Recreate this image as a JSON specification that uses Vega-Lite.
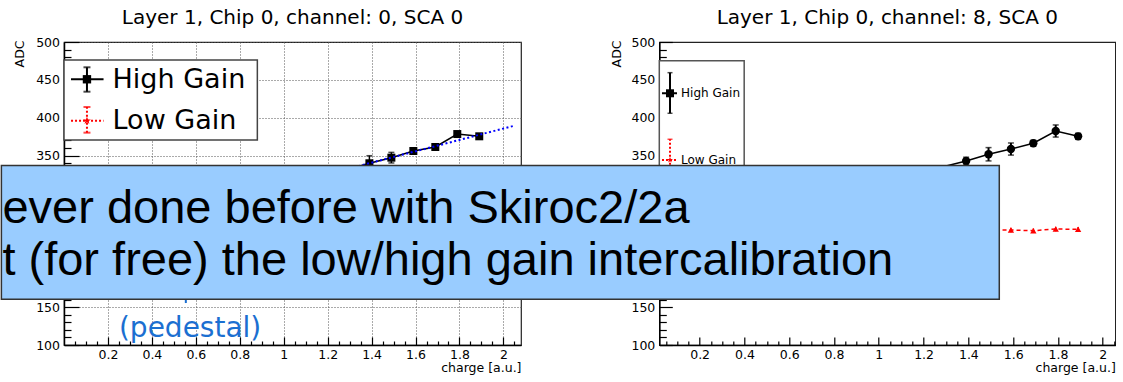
{
  "$schema": "https://vega.github.io/schema/vega-lite/v6.json",
  "autosize": {"type": "pad"},
  "padding": {"left": 0, "top": 7, "right": 0, "bottom": 0},
  "background": "#ffffff",
  "bounds": "flush",
  "spacing": 138.3,
  "datasets": {
    "hgL": [
      {"x": 1.19, "y": 322.7, "lo": 318, "hi": 327},
      {"x": 1.39, "y": 339.9, "lo": 329.9, "hi": 349.9},
      {"x": 1.49, "y": 347.3, "lo": 340.3, "hi": 354.3},
      {"x": 1.59, "y": 356.1, "lo": 353.1, "hi": 359.1},
      {"x": 1.69, "y": 361.4, "lo": 358.4, "hi": 364.4},
      {"x": 1.79, "y": 378.5, "lo": 375.5, "hi": 381.5},
      {"x": 1.89, "y": 375.5, "lo": 372.5, "hi": 378.5}
    ],
    "fitL": [{"x": 1.30, "y": 333.2}, {"x": 2.05, "y": 389.5}],
    "boxL": [{"x1": 0, "x2": 0.88, "y1": 476.2, "y2": 370.6}],
    "legL": [
      {"s": "High Gain", "x": 0.1045, "y": 450.8, "lo": 434.4, "hi": 466.6, "xa": 0.032, "xb": 0.18, "tx": 0.221, "ty": 438.9},
      {"s": "Low Gain", "x": 0.1045, "y": 396.1, "lo": 380.3, "hi": 414.2, "xa": 0.032, "xb": 0.18, "tx": 0.221, "ty": 385.1}
    ],
    "pedL": [{"x": 0.25, "y": 110.6, "t": "(pedestal)"}],
    "arrowL": [{"x": 0.5545, "y1": 175, "y2": 155.4}],
    "hgR": [
      {"x": 1.09, "y": 320.9, "lo": 316, "hi": 326},
      {"x": 1.39, "y": 342.9, "lo": 337.9, "hi": 347.9},
      {"x": 1.49, "y": 351.8, "lo": 343, "hi": 360.6},
      {"x": 1.59, "y": 358.7, "lo": 350.7, "hi": 366.7},
      {"x": 1.69, "y": 366.3, "lo": 362.3, "hi": 370.3},
      {"x": 1.79, "y": 382.5, "lo": 374.5, "hi": 390.5},
      {"x": 1.89, "y": 375.5, "lo": 371.5, "hi": 379.5}
    ],
    "lgR": [
      {"x": 1.49, "y": 252, "lo": 249, "hi": 255},
      {"x": 1.59, "y": 251.8, "lo": 248.8, "hi": 254.8},
      {"x": 1.69, "y": 250.9, "lo": 247.9, "hi": 253.9},
      {"x": 1.79, "y": 253.1, "lo": 250.1, "hi": 256.1},
      {"x": 1.89, "y": 252.7, "lo": 249.7, "hi": 255.7}
    ],
    "boxR": [{"x1": 0.02, "x2": 0.399, "y1": 475.3, "y2": 200}],
    "legR": [
      {"s": "High Gain", "x": 0.0678, "y": 432.3, "lo": 405.9, "hi": 459.5, "xa": 0.032, "xb": 0.099, "tx": 0.117, "ty": 427.8},
      {"s": "Low Gain", "x": 0.0678, "y": 344.2, "lo": 316.9, "hi": 371.6, "xa": 0.032, "xb": 0.099, "tx": 0.117, "ty": 338.5}
    ],
    "banner": [{"x1": -2.9175, "x2": 1.538, "y1": 337, "y2": 160.3}],
    "bannerText": [
      {"x": -2.913, "y": 260.7, "t": "ever done before with Skiroc2/2a"},
      {"x": -2.913, "y": 192.4, "t": "t (for free) the low/high gain intercalibration"}
    ]
  },
  "hconcat": [
    {
      "width": 457,
      "height": 303,
      "title": {"text": "Layer 1, Chip 0, channel: 0, SCA 0", "font": "DejaVu Sans", "fontSize": 20, "fontWeight": "normal", "color": "#000000", "anchor": "middle", "frame": "group", "baseline": "alphabetic", "offset": -8},
      "resolve": {"axis": {"x": "independent", "y": "independent"}},
      "layer": [
        {
          "data": {"name": "hgL"},
          "mark": {"type": "rule", "color": "#000000", "strokeWidth": 1.5},
          "encoding": {
            "x": {"field": "x", "type": "quantitative", "scale": {"domain": [0, 2.08], "nice": false, "zero": false},
              "axis": {"orient": "bottom", "values": [0.2, 0.4, 0.6, 0.8, 1, 1.2, 1.4, 1.6, 1.8, 2], "format": "~g", "ticks": false, "labelPadding": 3, "labelFlush": false, "labelOverlap": false, "labelFontSize": 12.5, "labelColor": "#000000", "grid": true, "gridDash": [1, 2], "gridColor": "#555555", "gridWidth": 1, "domain": true, "domainColor": "#000000", "domainWidth": 1.5, "title": "charge [a.u.]", "titleFontSize": 12.5, "titleFontWeight": "normal", "titleColor": "#000000", "titleAlign": "right", "titleBaseline": "alphabetic", "titleX": 457, "titleY": 26}},
            "y": {"field": "lo", "type": "quantitative", "scale": {"domain": [100, 500], "nice": false, "zero": false},
              "axis": {"orient": "left", "values": [100, 150, 200, 250, 300, 350, 400, 450, 500], "ticks": false, "labelPadding": 4.5, "labelOverlap": false, "labelFlush": false, "labelFontSize": 12.5, "labelColor": "#000000", "grid": true, "gridDash": [1, 2], "gridColor": "#555555", "gridWidth": 1, "domain": true, "domainColor": "#000000", "domainWidth": 1.5, "title": "ADC", "titleAngle": -90, "titleAlign": "right", "titleBaseline": "middle", "titleX": -45, "titleY": -2, "titleFontSize": 12.5, "titleFontWeight": "normal", "titleColor": "#000000"}},
            "y2": {"field": "hi"}
          }
        },
        {
          "data": {"name": "hgL"},
          "mark": {"type": "tick", "orient": "horizontal", "size": 6, "thickness": 1.5, "color": "#000000"},
          "encoding": {
            "x": {"field": "x", "type": "quantitative", "scale": {"domain": [0, 2.08], "nice": false, "zero": false},
              "axis": {"orient": "bottom", "values": [0.2, 0.4, 0.6, 0.8, 1, 1.2, 1.4, 1.6, 1.8, 2], "labels": false, "domain": false, "grid": false, "ticks": true, "tickSize": -8, "tickWidth": 1.2, "tickColor": "#000000", "title": null}},
            "y": {"field": "hi", "type": "quantitative", "scale": {"domain": [100, 500], "nice": false, "zero": false},
              "axis": {"orient": "left", "values": [100, 150, 200, 250, 300, 350, 400, 450, 500], "labels": false, "domain": false, "grid": false, "ticks": true, "tickSize": -15, "tickWidth": 1.2, "tickColor": "#000000", "title": null}}
          }
        },
        {
          "data": {"name": "hgL"},
          "mark": {"type": "tick", "orient": "horizontal", "size": 6, "thickness": 1.5, "color": "#000000"},
          "encoding": {
            "x": {"field": "x", "type": "quantitative", "scale": {"domain": [0, 2.08], "nice": false, "zero": false},
              "axis": {"orient": "bottom", "values": [0.05, 0.1, 0.15, 0.25, 0.3, 0.35, 0.45, 0.5, 0.55, 0.65, 0.7, 0.75, 0.85, 0.9, 0.95, 1.05, 1.1, 1.15, 1.25, 1.3, 1.35, 1.45, 1.5, 1.55, 1.65, 1.7, 1.75, 1.85, 1.9, 1.95, 2.05], "labels": false, "domain": false, "grid": false, "ticks": true, "tickSize": -4, "tickWidth": 1.2, "tickColor": "#000000", "title": null}},
            "y": {"field": "lo", "type": "quantitative", "scale": {"domain": [100, 500], "nice": false, "zero": false},
              "axis": {"orient": "left", "values": [110, 120, 130, 140, 160, 170, 180, 190, 210, 220, 230, 240, 260, 270, 280, 290, 310, 320, 330, 340, 360, 370, 380, 390, 410, 420, 430, 440, 460, 470, 480, 490], "labels": false, "domain": false, "grid": false, "ticks": true, "tickSize": -7, "tickWidth": 1.2, "tickColor": "#000000", "title": null}}
          }
        },
        {
          "data": {"name": "hgL"},
          "mark": {"type": "line", "color": "#000000", "strokeWidth": 1.5},
          "encoding": {
            "x": {"field": "x", "type": "quantitative", "scale": {"domain": [0, 2.08], "nice": false, "zero": false}, "axis": null},
            "y": {"field": "y", "type": "quantitative", "scale": {"domain": [100, 500], "nice": false, "zero": false}, "axis": null}
          }
        },
        {
          "data": {"name": "hgL"},
          "mark": {"type": "point", "shape": "square", "filled": true, "size": 64, "color": "#000000", "opacity": 1},
          "encoding": {
            "x": {"field": "x", "type": "quantitative", "scale": {"domain": [0, 2.08], "nice": false, "zero": false}, "axis": null},
            "y": {"field": "y", "type": "quantitative", "scale": {"domain": [100, 500], "nice": false, "zero": false}, "axis": null}
          }
        },
        {
          "data": {"name": "fitL"},
          "mark": {"type": "line", "color": "#0000ff", "strokeWidth": 2, "strokeDash": [2, 2.5]},
          "encoding": {
            "x": {"field": "x", "type": "quantitative", "scale": {"domain": [0, 2.08], "nice": false, "zero": false}, "axis": null},
            "y": {"field": "y", "type": "quantitative", "scale": {"domain": [100, 500], "nice": false, "zero": false}, "axis": null}
          }
        },
        {
          "data": {"name": "boxL"},
          "mark": {"type": "rect", "fill": "#ffffff", "stroke": "#444444", "strokeWidth": 1.5},
          "encoding": {
            "x": {"field": "x1", "type": "quantitative", "scale": {"domain": [0, 2.08], "nice": false, "zero": false}, "axis": null},
            "x2": {"field": "x2"},
            "y": {"field": "y1", "type": "quantitative", "scale": {"domain": [100, 500], "nice": false, "zero": false}, "axis": null},
            "y2": {"field": "y2"}
          }
        },
        {
          "data": {"name": "legL"},
          "mark": {"type": "rule", "strokeWidth": 2},
          "encoding": {
            "x": {"field": "xa", "type": "quantitative", "scale": {"domain": [0, 2.08], "nice": false, "zero": false}, "axis": null},
            "x2": {"field": "xb"},
            "y": {"field": "y", "type": "quantitative", "scale": {"domain": [100, 500], "nice": false, "zero": false}, "axis": null},
            "color": {"field": "s", "type": "nominal", "scale": {"domain": ["High Gain", "Low Gain"], "range": ["#000000", "#ff0000"]}, "legend": null},
            "strokeDash": {"field": "s", "type": "nominal", "scale": {"domain": ["High Gain", "Low Gain"], "range": [[1, 0], [2, 2]]}, "legend": null}
          }
        },
        {
          "data": {"name": "legL"},
          "mark": {"type": "rule", "strokeWidth": 2},
          "encoding": {
            "x": {"field": "x", "type": "quantitative", "scale": {"domain": [0, 2.08], "nice": false, "zero": false}, "axis": null},
            "y": {"field": "lo", "type": "quantitative", "scale": {"domain": [100, 500], "nice": false, "zero": false}, "axis": null},
            "y2": {"field": "hi"},
            "color": {"field": "s", "type": "nominal", "scale": {"domain": ["High Gain", "Low Gain"], "range": ["#000000", "#ff0000"]}, "legend": null},
            "strokeDash": {"field": "s", "type": "nominal", "scale": {"domain": ["High Gain", "Low Gain"], "range": [[1, 0], [2, 2]]}, "legend": null}
          }
        },
        {
          "data": {"name": "legL"},
          "mark": {"type": "tick", "orient": "horizontal", "size": 7, "thickness": 2},
          "encoding": {
            "x": {"field": "x", "type": "quantitative", "scale": {"domain": [0, 2.08], "nice": false, "zero": false}, "axis": null},
            "y": {"field": "hi", "type": "quantitative", "scale": {"domain": [100, 500], "nice": false, "zero": false}, "axis": null},
            "color": {"field": "s", "type": "nominal", "scale": {"domain": ["High Gain", "Low Gain"], "range": ["#000000", "#ff0000"]}, "legend": null}
          }
        },
        {
          "data": {"name": "legL"},
          "mark": {"type": "tick", "orient": "horizontal", "size": 7, "thickness": 2},
          "encoding": {
            "x": {"field": "x", "type": "quantitative", "scale": {"domain": [0, 2.08], "nice": false, "zero": false}, "axis": null},
            "y": {"field": "lo", "type": "quantitative", "scale": {"domain": [100, 500], "nice": false, "zero": false}, "axis": null},
            "color": {"field": "s", "type": "nominal", "scale": {"domain": ["High Gain", "Low Gain"], "range": ["#000000", "#ff0000"]}, "legend": null}
          }
        },
        {
          "data": {"name": "legL"},
          "mark": {"type": "point", "filled": true, "size": 70, "opacity": 1},
          "encoding": {
            "x": {"field": "x", "type": "quantitative", "scale": {"domain": [0, 2.08], "nice": false, "zero": false}, "axis": null},
            "y": {"field": "y", "type": "quantitative", "scale": {"domain": [100, 500], "nice": false, "zero": false}, "axis": null},
            "color": {"field": "s", "type": "nominal", "scale": {"domain": ["High Gain", "Low Gain"], "range": ["#000000", "#ff0000"]}, "legend": null},
            "shape": {"field": "s", "type": "nominal", "scale": {"domain": ["High Gain", "Low Gain"], "range": ["square", "M0,-1L0.2245,-0.309L0.951,-0.309L0.363,0.118L0.588,0.809L0,0.382L-0.588,0.809L-0.363,0.118L-0.951,-0.309L-0.2245,-0.309Z"]}, "legend": null}
          }
        },
        {
          "data": {"name": "legL"},
          "mark": {"type": "text", "align": "left", "baseline": "alphabetic", "font": "DejaVu Sans", "fontSize": 27, "color": "#000000"},
          "encoding": {
            "x": {"field": "tx", "type": "quantitative", "scale": {"domain": [0, 2.08], "nice": false, "zero": false}, "axis": null},
            "y": {"field": "ty", "type": "quantitative", "scale": {"domain": [100, 500], "nice": false, "zero": false}, "axis": null},
            "text": {"field": "s"}
          }
        },
        {
          "data": {"name": "pedL"},
          "mark": {"type": "text", "align": "left", "baseline": "alphabetic", "font": "DejaVu Sans", "fontSize": 28, "color": "#1b6fd1"},
          "encoding": {
            "x": {"field": "x", "type": "quantitative", "scale": {"domain": [0, 2.08], "nice": false, "zero": false}, "axis": null},
            "y": {"field": "y", "type": "quantitative", "scale": {"domain": [100, 500], "nice": false, "zero": false}, "axis": null},
            "text": {"field": "t"}
          }
        },
        {
          "data": {"name": "arrowL"},
          "mark": {"type": "rule", "color": "#1b6fd1", "strokeWidth": 2},
          "encoding": {
            "x": {"field": "x", "type": "quantitative", "scale": {"domain": [0, 2.08], "nice": false, "zero": false}, "axis": null},
            "y": {"field": "y1", "type": "quantitative", "scale": {"domain": [100, 500], "nice": false, "zero": false}, "axis": null},
            "y2": {"field": "y2"}
          }
        }
      ]
    },
    {
      "width": 456,
      "height": 303,
      "title": {"text": "Layer 1, Chip 0, channel: 8, SCA 0", "font": "DejaVu Sans", "fontSize": 20, "fontWeight": "normal", "color": "#000000", "anchor": "middle", "frame": "group", "baseline": "alphabetic", "offset": -8},
      "resolve": {"axis": {"x": "independent", "y": "independent"}},
      "layer": [
        {
          "data": {"name": "hgR"},
          "mark": {"type": "rule", "color": "#000000", "strokeWidth": 2},
          "encoding": {
            "x": {"field": "x", "type": "quantitative", "scale": {"domain": [0.02, 2.056], "nice": false, "zero": false},
              "axis": {"orient": "bottom", "values": [0.2, 0.4, 0.6, 0.8, 1, 1.2, 1.4, 1.6, 1.8, 2], "format": "~g", "ticks": false, "labelPadding": 3, "labelFlush": false, "labelOverlap": false, "labelFontSize": 12.5, "labelColor": "#000000", "grid": false, "domain": true, "domainColor": "#000000", "domainWidth": 1.5, "title": "charge [a.u.]", "titleFontSize": 12.5, "titleFontWeight": "normal", "titleColor": "#000000", "titleAlign": "right", "titleBaseline": "alphabetic", "titleX": 456, "titleY": 26}},
            "y": {"field": "lo", "type": "quantitative", "scale": {"domain": [100, 500], "nice": false, "zero": false},
              "axis": {"orient": "left", "values": [100, 150, 200, 250, 300, 350, 400, 450, 500], "ticks": false, "labelPadding": 4.5, "labelOverlap": false, "labelFlush": false, "labelFontSize": 12.5, "labelColor": "#000000", "grid": false, "domain": true, "domainColor": "#000000", "domainWidth": 1.5, "title": "ADC", "titleAngle": -90, "titleAlign": "right", "titleBaseline": "middle", "titleX": -43.3, "titleY": -2, "titleFontSize": 12.5, "titleFontWeight": "normal", "titleColor": "#000000"}},
            "y2": {"field": "hi"}
          }
        },
        {
          "data": {"name": "hgR"},
          "mark": {"type": "tick", "orient": "horizontal", "size": 6, "thickness": 1.5, "color": "#000000"},
          "encoding": {
            "x": {"field": "x", "type": "quantitative", "scale": {"domain": [0.02, 2.056], "nice": false, "zero": false},
              "axis": {"orient": "bottom", "values": [0.2, 0.4, 0.6, 0.8, 1, 1.2, 1.4, 1.6, 1.8, 2], "labels": false, "domain": false, "grid": false, "ticks": true, "tickSize": -8, "tickWidth": 1.2, "tickColor": "#000000", "title": null}},
            "y": {"field": "hi", "type": "quantitative", "scale": {"domain": [100, 500], "nice": false, "zero": false},
              "axis": {"orient": "left", "values": [100, 150, 200, 250, 300, 350, 400, 450, 500], "labels": false, "domain": false, "grid": false, "ticks": true, "tickSize": -13, "tickWidth": 1.2, "tickColor": "#000000", "title": null}}
          }
        },
        {
          "data": {"name": "hgR"},
          "mark": {"type": "tick", "orient": "horizontal", "size": 6, "thickness": 1.5, "color": "#000000"},
          "encoding": {
            "x": {"field": "x", "type": "quantitative", "scale": {"domain": [0.02, 2.056], "nice": false, "zero": false},
              "axis": {"orient": "bottom", "values": [0.05, 0.1, 0.15, 0.25, 0.3, 0.35, 0.45, 0.5, 0.55, 0.65, 0.7, 0.75, 0.85, 0.9, 0.95, 1.05, 1.1, 1.15, 1.25, 1.3, 1.35, 1.45, 1.5, 1.55, 1.65, 1.7, 1.75, 1.85, 1.9, 1.95, 2.05], "labels": false, "domain": false, "grid": false, "ticks": true, "tickSize": -4, "tickWidth": 1.2, "tickColor": "#000000", "title": null}},
            "y": {"field": "lo", "type": "quantitative", "scale": {"domain": [100, 500], "nice": false, "zero": false},
              "axis": {"orient": "left", "values": [110, 120, 130, 140, 160, 170, 180, 190, 210, 220, 230, 240, 260, 270, 280, 290, 310, 320, 330, 340, 360, 370, 380, 390, 410, 420, 430, 440, 460, 470, 480, 490], "labels": false, "domain": false, "grid": false, "ticks": true, "tickSize": -7, "tickWidth": 1.2, "tickColor": "#000000", "title": null}}
          }
        },
        {
          "data": {"name": "hgR"},
          "mark": {"type": "line", "color": "#000000", "strokeWidth": 1.5},
          "encoding": {
            "x": {"field": "x", "type": "quantitative", "scale": {"domain": [0.02, 2.056], "nice": false, "zero": false}, "axis": null},
            "y": {"field": "y", "type": "quantitative", "scale": {"domain": [100, 500], "nice": false, "zero": false}, "axis": null}
          }
        },
        {
          "data": {"name": "hgR"},
          "mark": {"type": "point", "shape": "circle", "filled": true, "size": 70, "color": "#000000", "opacity": 1},
          "encoding": {
            "x": {"field": "x", "type": "quantitative", "scale": {"domain": [0.02, 2.056], "nice": false, "zero": false}, "axis": null},
            "y": {"field": "y", "type": "quantitative", "scale": {"domain": [100, 500], "nice": false, "zero": false}, "axis": null}
          }
        },
        {
          "data": {"name": "lgR"},
          "mark": {"type": "rule", "color": "#ff0000", "strokeWidth": 1.5},
          "encoding": {
            "x": {"field": "x", "type": "quantitative", "scale": {"domain": [0.02, 2.056], "nice": false, "zero": false}, "axis": null},
            "y": {"field": "lo", "type": "quantitative", "scale": {"domain": [100, 500], "nice": false, "zero": false}, "axis": null},
            "y2": {"field": "hi"}
          }
        },
        {
          "data": {"name": "lgR"},
          "mark": {"type": "line", "color": "#ff0000", "strokeWidth": 1.5, "strokeDash": [4, 3]},
          "encoding": {
            "x": {"field": "x", "type": "quantitative", "scale": {"domain": [0.02, 2.056], "nice": false, "zero": false}, "axis": null},
            "y": {"field": "y", "type": "quantitative", "scale": {"domain": [100, 500], "nice": false, "zero": false}, "axis": null}
          }
        },
        {
          "data": {"name": "lgR"},
          "mark": {"type": "point", "shape": "triangle-up", "filled": true, "size": 40, "color": "#ff0000", "opacity": 1},
          "encoding": {
            "x": {"field": "x", "type": "quantitative", "scale": {"domain": [0.02, 2.056], "nice": false, "zero": false}, "axis": null},
            "y": {"field": "y", "type": "quantitative", "scale": {"domain": [100, 500], "nice": false, "zero": false}, "axis": null}
          }
        },
        {
          "data": {"name": "boxR"},
          "mark": {"type": "rect", "fill": "#ffffff", "stroke": "#555555", "strokeWidth": 1.5},
          "encoding": {
            "x": {"field": "x1", "type": "quantitative", "scale": {"domain": [0.02, 2.056], "nice": false, "zero": false}, "axis": null},
            "x2": {"field": "x2"},
            "y": {"field": "y1", "type": "quantitative", "scale": {"domain": [100, 500], "nice": false, "zero": false}, "axis": null},
            "y2": {"field": "y2"}
          }
        },
        {
          "data": {"name": "legR"},
          "mark": {"type": "rule", "strokeWidth": 2},
          "encoding": {
            "x": {"field": "xa", "type": "quantitative", "scale": {"domain": [0.02, 2.056], "nice": false, "zero": false}, "axis": null},
            "x2": {"field": "xb"},
            "y": {"field": "y", "type": "quantitative", "scale": {"domain": [100, 500], "nice": false, "zero": false}, "axis": null},
            "color": {"field": "s", "type": "nominal", "scale": {"domain": ["High Gain", "Low Gain"], "range": ["#000000", "#ff0000"]}, "legend": null},
            "strokeDash": {"field": "s", "type": "nominal", "scale": {"domain": ["High Gain", "Low Gain"], "range": [[1, 0], [3, 2]]}, "legend": null}
          }
        },
        {
          "data": {"name": "legR"},
          "mark": {"type": "rule", "strokeWidth": 2},
          "encoding": {
            "x": {"field": "x", "type": "quantitative", "scale": {"domain": [0.02, 2.056], "nice": false, "zero": false}, "axis": null},
            "y": {"field": "lo", "type": "quantitative", "scale": {"domain": [100, 500], "nice": false, "zero": false}, "axis": null},
            "y2": {"field": "hi"},
            "color": {"field": "s", "type": "nominal", "scale": {"domain": ["High Gain", "Low Gain"], "range": ["#000000", "#ff0000"]}, "legend": null},
            "strokeDash": {"field": "s", "type": "nominal", "scale": {"domain": ["High Gain", "Low Gain"], "range": [[1, 0], [2, 2]]}, "legend": null}
          }
        },
        {
          "data": {"name": "legR"},
          "mark": {"type": "tick", "orient": "horizontal", "size": 5, "thickness": 1.5},
          "encoding": {
            "x": {"field": "x", "type": "quantitative", "scale": {"domain": [0.02, 2.056], "nice": false, "zero": false}, "axis": null},
            "y": {"field": "hi", "type": "quantitative", "scale": {"domain": [100, 500], "nice": false, "zero": false}, "axis": null},
            "color": {"field": "s", "type": "nominal", "scale": {"domain": ["High Gain", "Low Gain"], "range": ["#000000", "#ff0000"]}, "legend": null}
          }
        },
        {
          "data": {"name": "legR"},
          "mark": {"type": "tick", "orient": "horizontal", "size": 5, "thickness": 1.5},
          "encoding": {
            "x": {"field": "x", "type": "quantitative", "scale": {"domain": [0.02, 2.056], "nice": false, "zero": false}, "axis": null},
            "y": {"field": "lo", "type": "quantitative", "scale": {"domain": [100, 500], "nice": false, "zero": false}, "axis": null},
            "color": {"field": "s", "type": "nominal", "scale": {"domain": ["High Gain", "Low Gain"], "range": ["#000000", "#ff0000"]}, "legend": null}
          }
        },
        {
          "data": {"name": "legR"},
          "mark": {"type": "point", "filled": true, "opacity": 1},
          "encoding": {
            "x": {"field": "x", "type": "quantitative", "scale": {"domain": [0.02, 2.056], "nice": false, "zero": false}, "axis": null},
            "y": {"field": "y", "type": "quantitative", "scale": {"domain": [100, 500], "nice": false, "zero": false}, "axis": null},
            "color": {"field": "s", "type": "nominal", "scale": {"domain": ["High Gain", "Low Gain"], "range": ["#000000", "#ff0000"]}, "legend": null},
            "shape": {"field": "s", "type": "nominal", "scale": {"domain": ["High Gain", "Low Gain"], "range": ["square", "triangle-up"]}, "legend": null},
            "size": {"field": "s", "type": "nominal", "scale": {"domain": ["High Gain", "Low Gain"], "range": [64, 40]}, "legend": null}
          }
        },
        {
          "data": {"name": "legR"},
          "mark": {"type": "text", "align": "left", "baseline": "alphabetic", "font": "DejaVu Sans", "fontSize": 12, "color": "#000000"},
          "encoding": {
            "x": {"field": "tx", "type": "quantitative", "scale": {"domain": [0.02, 2.056], "nice": false, "zero": false}, "axis": null},
            "y": {"field": "ty", "type": "quantitative", "scale": {"domain": [100, 500], "nice": false, "zero": false}, "axis": null},
            "text": {"field": "s"}
          }
        },
        {
          "data": {"name": "banner"},
          "mark": {"type": "rect", "fill": "#99ccff", "stroke": "#333333", "strokeWidth": 1.5},
          "encoding": {
            "x": {"field": "x1", "type": "quantitative", "scale": {"domain": [0.02, 2.056], "nice": false, "zero": false}, "axis": null},
            "x2": {"field": "x2"},
            "y": {"field": "y1", "type": "quantitative", "scale": {"domain": [100, 500], "nice": false, "zero": false}, "axis": null},
            "y2": {"field": "y2"}
          }
        },
        {
          "data": {"name": "bannerText"},
          "mark": {"type": "text", "align": "left", "baseline": "alphabetic", "font": "Liberation Sans", "fontSize": 47, "color": "#000000"},
          "encoding": {
            "x": {"field": "x", "type": "quantitative", "scale": {"domain": [0.02, 2.056], "nice": false, "zero": false}, "axis": null},
            "y": {"field": "y", "type": "quantitative", "scale": {"domain": [100, 500], "nice": false, "zero": false}, "axis": null},
            "text": {"field": "t"}
          }
        }
      ]
    }
  ],
  "config": {
    "font": "DejaVu Sans",
    "view": {"stroke": "#222222", "strokeWidth": 1.2},
    "axis": {"labelFont": "DejaVu Sans", "titleFont": "DejaVu Sans"}
  }
}
